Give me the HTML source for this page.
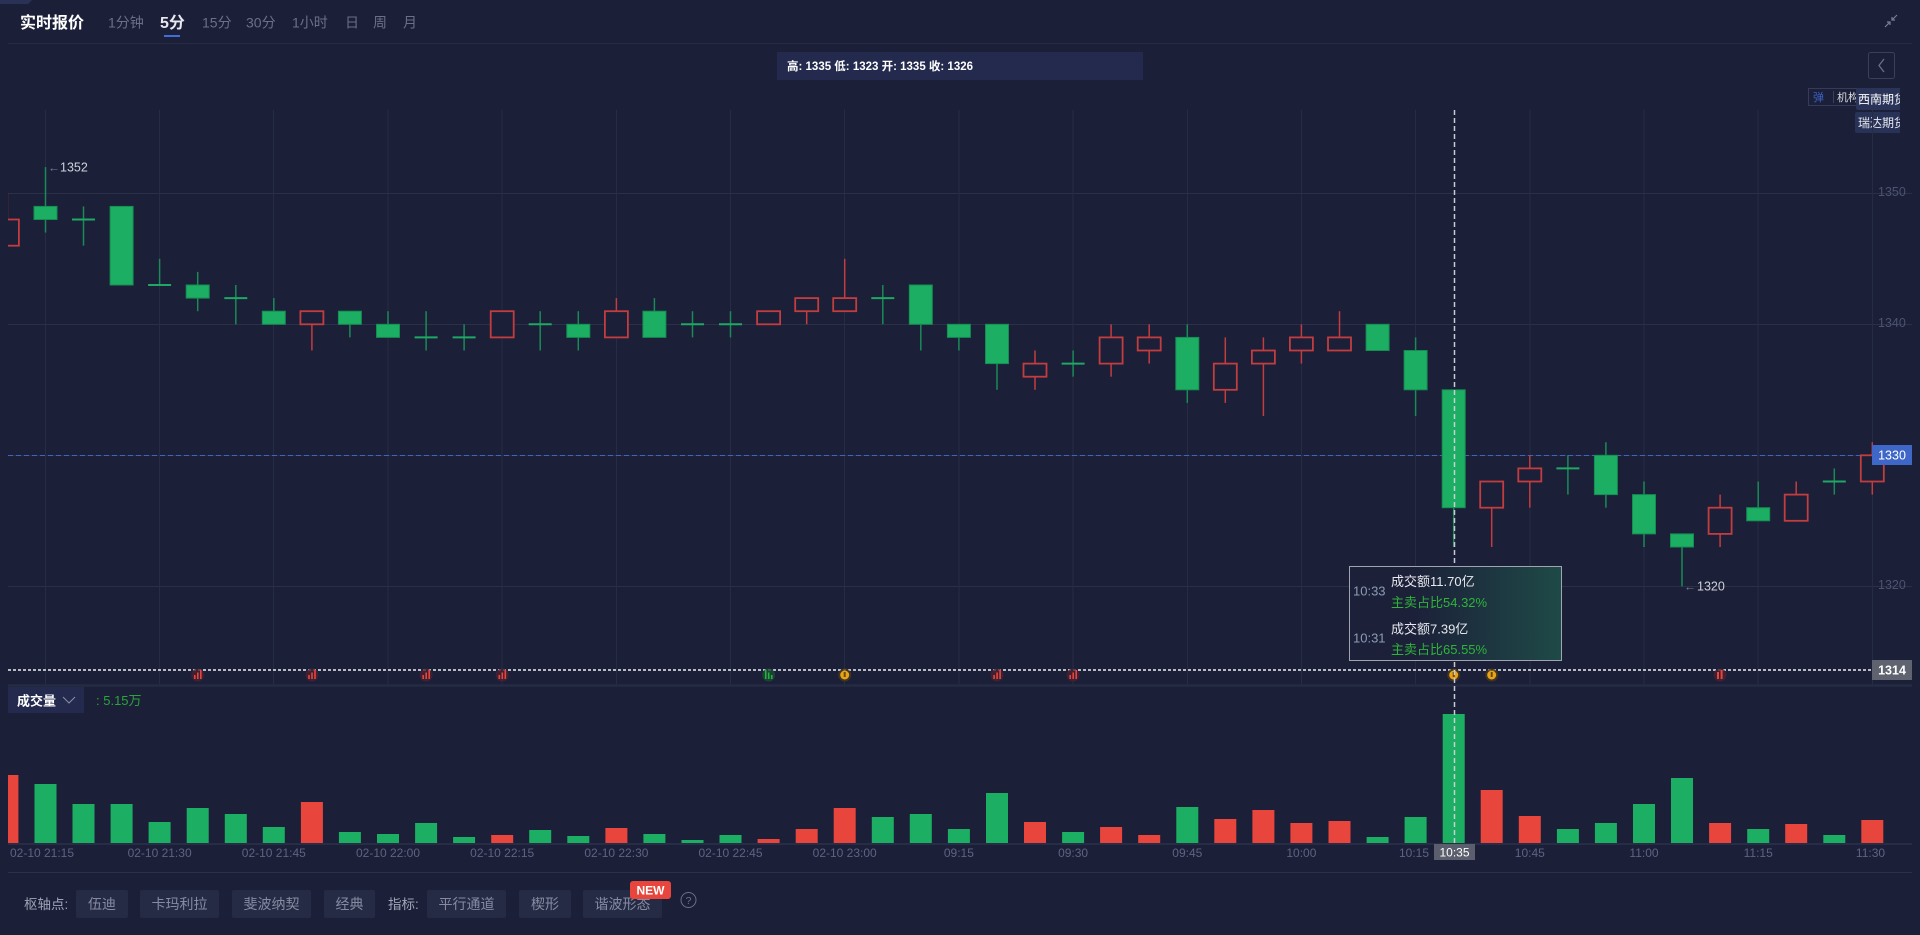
<!DOCTYPE html>
<html><head><meta charset="utf-8">
<style>
html,body{margin:0;padding:0;background:#1b1f38;width:1920px;height:935px;overflow:hidden}
svg{position:absolute;left:0;top:0;font-family:"Liberation Sans","Noto Sans CJK SC",sans-serif}
.gw{stroke:#1b8a56;stroke-width:1.5}
.gb{fill:#1caf63;stroke:#168c52;stroke-width:1}
.rw{stroke:#c23d3f;stroke-width:1.5}
.rb{fill:#1b1f38;stroke:#c23d3f;stroke-width:1.8}
.dj{stroke:#1ea864;stroke-width:2}
.vg{fill:#1caf63}.vr{fill:#e8463c}
.xl{font-size:12px;fill:#5e6381;text-anchor:middle}
.yl{font-size:12.5px;fill:#4d5370}
.tb{font-size:14px;fill:#6b7089}
.btn{fill:#262b45}
.bt{font-size:14px;fill:#868ba2;text-anchor:middle}
</style></head><body>
<svg width="1920" height="935" viewBox="0 0 1920 935">
<defs>
<clipPath id="pc"><rect x="8" y="100" width="1904" height="585"/></clipPath>
<clipPath id="vc"><rect x="8" y="686" width="1904" height="160"/></clipPath>
<clipPath id="tc"><rect x="1800" y="80" width="100" height="60"/></clipPath>
<linearGradient id="tg" x1="0" y1="0" x2="1" y2="0">
<stop offset="0" stop-color="#1c2039"/><stop offset="0.3" stop-color="#1c2039"/><stop offset="1" stop-color="#1e4a47"/>
</linearGradient>
</defs>

<!-- top-left decoration -->
<polygon points="0,0 32,0 28,4 0,4" fill="#2a3156"/>

<!-- header -->
<text x="20" y="28" font-size="16" font-weight="bold" fill="#ffffff">实时报价</text>
<text x="108" y="27.3" class="tb">1分钟</text>
<text x="160" y="28" font-size="16" font-weight="bold" fill="#e8e9f0">5分</text>
<rect x="164" y="35" width="16" height="2" fill="#3e6fd9"/>
<text x="202" y="27.3" class="tb">15分</text>
<text x="246" y="27.3" class="tb">30分</text>
<text x="292" y="27.3" class="tb">1小时</text>
<text x="345" y="27.3" class="tb">日</text>
<text x="373" y="27.3" class="tb">周</text>
<text x="403" y="27.3" class="tb">月</text>
<!-- compress icon -->
<g stroke="#7a7f96" stroke-width="1.2" fill="none">
<line x1="1885" y1="27" x2="1890" y2="22"/><polyline points="1887,22 1890,22 1890,25"/>
<line x1="1897" y1="15" x2="1892" y2="20"/><polyline points="1892,17 1892,20 1895,20"/>
</g>
<line x1="8" y1="43.5" x2="1912" y2="43.5" stroke="#262b44" stroke-width="1"/>

<!-- info box -->
<rect x="777" y="52" width="366" height="28" fill="#232a4d"/>
<text x="787" y="70" font-size="11.5" font-weight="bold" fill="#ffffff">高: 1335 低: 1323 开: 1335 收: 1326</text>

<!-- back button -->
<rect x="1868.5" y="52.5" width="26" height="26" rx="2" fill="none" stroke="#3a3f5a"/>
<polyline points="1884,59 1879,65.5 1884,72" fill="none" stroke="#6b7089" stroke-width="1.3"/>

<!-- tags -->
<g clip-path="url(#tc)">
<rect x="1808.5" y="88.5" width="60" height="17" fill="none" stroke="#363b5c"/>
<text x="1813" y="101" font-size="11" fill="#3d63c4">弹</text>
<line x1="1833.5" y1="91" x2="1833.5" y2="103" stroke="#3a3f5a"/>
<text x="1837" y="101" font-size="11" fill="#d8d9e0">机构</text>
<rect x="1856" y="88" width="50" height="22" rx="2" fill="#2a3358"/>
<text x="1858" y="103.5" font-size="12" fill="#ffffff">西南期货</text>
<rect x="1855" y="112" width="50" height="21" rx="2" fill="#283257"/>
<text x="1858" y="127" font-size="12" fill="#e8e9f0">瑞达期货</text>
</g>

<!-- grid -->
<g stroke="#2b3049" stroke-width="1">
<line x1="8" y1="193.5" x2="1912" y2="193.5"/>
<line x1="8" y1="324.5" x2="1912" y2="324.5"/>
<line x1="8" y1="455.5" x2="1912" y2="455.5"/>
<line x1="8" y1="586.5" x2="1912" y2="586.5"/>
</g>
<g stroke="#272c45" stroke-width="1">
<line x1="45.5" y1="110" x2="45.5" y2="685"/>
<line x1="159.5" y1="110" x2="159.5" y2="685"/>
<line x1="273.5" y1="110" x2="273.5" y2="685"/>
<line x1="388" y1="110" x2="388" y2="685"/>
<line x1="502" y1="110" x2="502" y2="685"/>
<line x1="616.5" y1="110" x2="616.5" y2="685"/>
<line x1="730.5" y1="110" x2="730.5" y2="685"/>
<line x1="844.5" y1="110" x2="844.5" y2="685"/>
<line x1="959" y1="110" x2="959" y2="685"/>
<line x1="1073" y1="110" x2="1073" y2="685"/>
<line x1="1187.5" y1="110" x2="1187.5" y2="685"/>
<line x1="1301.5" y1="110" x2="1301.5" y2="685"/>
<line x1="1415.5" y1="110" x2="1415.5" y2="685"/>
<line x1="1530" y1="110" x2="1530" y2="685"/>
<line x1="1644" y1="110" x2="1644" y2="685"/>
<line x1="1758" y1="110" x2="1758" y2="685"/>
<line x1="1872.5" y1="110" x2="1872.5" y2="685"/>
</g>

<!-- y labels -->
<text x="1878" y="196" class="yl">1350</text>
<text x="1878" y="327" class="yl">1340</text>
<text x="1878" y="589" class="yl">1320</text>

<!-- current price dashed -->
<line x1="8" y1="455.5" x2="1872" y2="455.5" stroke="#3d63c4" stroke-width="1" stroke-dasharray="5 3"/>

<!-- candles -->
<g clip-path="url(#pc)">
<line class="rw" x1="7.4" y1="193.3" x2="7.4" y2="245.7"/><rect class="rb" x="-4.1" y="219.5" width="23" height="26.2"/>
<line class="gw" x1="45.5" y1="167.1" x2="45.5" y2="232.6"/><rect class="gb" x="34" y="206.4" width="23" height="13.1"/>
<line class="gw" x1="83.5" y1="206.4" x2="83.5" y2="245.7"/><line class="dj" x1="72" y1="219.5" x2="95" y2="219.5"/>
<rect class="gb" x="110.1" y="206.4" width="23" height="78.6"/>
<line class="gw" x1="159.6" y1="258.8" x2="159.6" y2="285"/><line class="dj" x1="148.1" y1="285" x2="171.1" y2="285"/>
<line class="gw" x1="197.7" y1="271.9" x2="197.7" y2="311.2"/><rect class="gb" x="186.2" y="285" width="23" height="13.1"/>
<line class="gw" x1="235.8" y1="285" x2="235.8" y2="324.3"/><line class="dj" x1="224.3" y1="298.1" x2="247.3" y2="298.1"/>
<line class="gw" x1="273.8" y1="298.1" x2="273.8" y2="324.3"/><rect class="gb" x="262.3" y="311.2" width="23" height="13.1"/>
<line class="rw" x1="311.9" y1="311.2" x2="311.9" y2="350.5"/><rect class="rb" x="300.4" y="311.2" width="23" height="13.1"/>
<line class="gw" x1="349.9" y1="311.2" x2="349.9" y2="337.4"/><rect class="gb" x="338.4" y="311.2" width="23" height="13.1"/>
<line class="gw" x1="388" y1="311.2" x2="388" y2="337.4"/><rect class="gb" x="376.5" y="324.3" width="23" height="13.1"/>
<line class="gw" x1="426.1" y1="311.2" x2="426.1" y2="350.5"/><line class="dj" x1="414.6" y1="337.4" x2="437.6" y2="337.4"/>
<line class="gw" x1="464.1" y1="324.3" x2="464.1" y2="350.5"/><line class="dj" x1="452.6" y1="337.4" x2="475.6" y2="337.4"/>
<rect class="rb" x="490.7" y="311.2" width="23" height="26.2"/>
<line class="gw" x1="540.2" y1="311.2" x2="540.2" y2="350.5"/><line class="dj" x1="528.7" y1="324.3" x2="551.7" y2="324.3"/>
<line class="gw" x1="578.3" y1="311.2" x2="578.3" y2="350.5"/><rect class="gb" x="566.8" y="324.3" width="23" height="13.1"/>
<line class="rw" x1="616.4" y1="298.1" x2="616.4" y2="337.4"/><rect class="rb" x="604.9" y="311.2" width="23" height="26.2"/>
<line class="gw" x1="654.4" y1="298.1" x2="654.4" y2="337.4"/><rect class="gb" x="642.9" y="311.2" width="23" height="26.2"/>
<line class="gw" x1="692.5" y1="311.2" x2="692.5" y2="337.4"/><line class="dj" x1="681" y1="324.3" x2="704" y2="324.3"/>
<line class="gw" x1="730.5" y1="311.2" x2="730.5" y2="337.4"/><line class="dj" x1="719" y1="324.3" x2="742" y2="324.3"/>
<rect class="rb" x="757.1" y="311.2" width="23" height="13.1"/>
<line class="rw" x1="806.7" y1="298.1" x2="806.7" y2="324.3"/><rect class="rb" x="795.2" y="298.1" width="23" height="13.1"/>
<line class="rw" x1="844.7" y1="258.8" x2="844.7" y2="311.2"/><rect class="rb" x="833.2" y="298.1" width="23" height="13.1"/>
<line class="gw" x1="882.8" y1="285" x2="882.8" y2="324.3"/><line class="dj" x1="871.3" y1="298.1" x2="894.3" y2="298.1"/>
<line class="gw" x1="920.8" y1="285" x2="920.8" y2="350.5"/><rect class="gb" x="909.3" y="285" width="23" height="39.3"/>
<line class="gw" x1="958.9" y1="324.3" x2="958.9" y2="350.5"/><rect class="gb" x="947.4" y="324.3" width="23" height="13.1"/>
<line class="gw" x1="997" y1="324.3" x2="997" y2="389.8"/><rect class="gb" x="985.5" y="324.3" width="23" height="39.3"/>
<line class="rw" x1="1035" y1="350.5" x2="1035" y2="389.8"/><rect class="rb" x="1023.5" y="363.6" width="23" height="13.1"/>
<line class="gw" x1="1073.1" y1="350.5" x2="1073.1" y2="376.7"/><line class="dj" x1="1061.6" y1="363.6" x2="1084.6" y2="363.6"/>
<line class="rw" x1="1111.1" y1="324.3" x2="1111.1" y2="376.7"/><rect class="rb" x="1099.6" y="337.4" width="23" height="26.2"/>
<line class="rw" x1="1149.2" y1="324.3" x2="1149.2" y2="363.6"/><rect class="rb" x="1137.7" y="337.4" width="23" height="13.1"/>
<line class="gw" x1="1187.3" y1="324.3" x2="1187.3" y2="402.9"/><rect class="gb" x="1175.8" y="337.4" width="23" height="52.4"/>
<line class="rw" x1="1225.3" y1="337.4" x2="1225.3" y2="402.9"/><rect class="rb" x="1213.8" y="363.6" width="23" height="26.2"/>
<line class="rw" x1="1263.4" y1="337.4" x2="1263.4" y2="416"/><rect class="rb" x="1251.9" y="350.5" width="23" height="13.1"/>
<line class="rw" x1="1301.4" y1="324.3" x2="1301.4" y2="363.6"/><rect class="rb" x="1289.9" y="337.4" width="23" height="13.1"/>
<line class="rw" x1="1339.5" y1="311.2" x2="1339.5" y2="350.5"/><rect class="rb" x="1328" y="337.4" width="23" height="13.1"/>
<rect class="gb" x="1366.1" y="324.3" width="23" height="26.2"/>
<line class="gw" x1="1415.6" y1="337.4" x2="1415.6" y2="416"/><rect class="gb" x="1404.1" y="350.5" width="23" height="39.3"/>
<line class="gw" x1="1453.7" y1="389.8" x2="1453.7" y2="547"/><rect class="gb" x="1442.2" y="389.8" width="23" height="117.9"/>
<line class="rw" x1="1491.7" y1="481.5" x2="1491.7" y2="547"/><rect class="rb" x="1480.2" y="481.5" width="23" height="26.2"/>
<line class="rw" x1="1529.8" y1="455.3" x2="1529.8" y2="507.7"/><rect class="rb" x="1518.3" y="468.4" width="23" height="13.1"/>
<line class="gw" x1="1567.9" y1="455.3" x2="1567.9" y2="494.6"/><line class="dj" x1="1556.4" y1="468.4" x2="1579.4" y2="468.4"/>
<line class="gw" x1="1605.9" y1="442.2" x2="1605.9" y2="507.7"/><rect class="gb" x="1594.4" y="455.3" width="23" height="39.3"/>
<line class="gw" x1="1644" y1="481.5" x2="1644" y2="547"/><rect class="gb" x="1632.5" y="494.6" width="23" height="39.3"/>
<line class="gw" x1="1682" y1="533.9" x2="1682" y2="586.3"/><rect class="gb" x="1670.5" y="533.9" width="23" height="13.1"/>
<line class="rw" x1="1720.1" y1="494.6" x2="1720.1" y2="547"/><rect class="rb" x="1708.6" y="507.7" width="23" height="26.2"/>
<line class="gw" x1="1758.2" y1="481.5" x2="1758.2" y2="520.8"/><rect class="gb" x="1746.7" y="507.7" width="23" height="13.1"/>
<line class="rw" x1="1796.2" y1="481.5" x2="1796.2" y2="520.8"/><rect class="rb" x="1784.7" y="494.6" width="23" height="26.2"/>
<line class="gw" x1="1834.3" y1="468.4" x2="1834.3" y2="494.6"/><line class="dj" x1="1822.8" y1="481.5" x2="1845.8" y2="481.5"/>
<line class="rw" x1="1872.3" y1="442.2" x2="1872.3" y2="494.6"/><rect class="rb" x="1860.8" y="455.3" width="23" height="26.2"/>
</g>

<!-- high/low markers -->
<text x="48" y="171.5" font-size="12" fill="#7a7f96">←</text>
<text x="60" y="171.5" font-size="12.5" fill="#d0d2da">1352</text>
<text x="1684" y="590.5" font-size="12" fill="#7a7f96">←</text>
<text x="1697" y="590.5" font-size="12.5" fill="#d0d2da">1320</text>

<!-- crosshair horizontal -->
<line x1="8" y1="670" x2="1872" y2="670" stroke="#b8bac6" stroke-width="2" stroke-dasharray="3 2"/>

<!-- signal icons -->
<g>
<circle cx="197.7" cy="675" r="6.5" fill="#4a2030" opacity="0.8"/><rect x="194" y="675" width="1.6" height="4" fill="#e8453c"/><rect x="197" y="672.5" width="1.6" height="6.5" fill="#e8453c"/><rect x="200" y="670" width="1.6" height="9" fill="#e8453c"/>
<circle cx="311.9" cy="675" r="6.5" fill="#4a2030" opacity="0.8"/><rect x="308.2" y="675" width="1.6" height="4" fill="#e8453c"/><rect x="311.2" y="672.5" width="1.6" height="6.5" fill="#e8453c"/><rect x="314.2" y="670" width="1.6" height="9" fill="#e8453c"/>
<circle cx="426.1" cy="675" r="6.5" fill="#4a2030" opacity="0.8"/><rect x="422.4" y="675" width="1.6" height="4" fill="#e8453c"/><rect x="425.4" y="672.5" width="1.6" height="6.5" fill="#e8453c"/><rect x="428.4" y="670" width="1.6" height="9" fill="#e8453c"/>
<circle cx="502.2" cy="675" r="6.5" fill="#4a2030" opacity="0.8"/><rect x="498.5" y="675" width="1.6" height="4" fill="#e8453c"/><rect x="501.5" y="672.5" width="1.6" height="6.5" fill="#e8453c"/><rect x="504.5" y="670" width="1.6" height="9" fill="#e8453c"/>
<circle cx="768.6" cy="675" r="6.5" fill="#1d4a35" opacity="0.8"/><rect x="764.9" y="670" width="1.6" height="9" fill="#22b33a"/><rect x="767.9" y="672.5" width="1.6" height="6.5" fill="#22b33a"/><rect x="770.9" y="675" width="1.6" height="4" fill="#22b33a"/>
<circle cx="844.7" cy="675" r="6.5" fill="#4a3a1a" opacity="0.8"/><circle cx="844.7" cy="675" r="4.5" fill="#e8a317"/><rect x="843.7" y="672" width="2" height="5" fill="#6a4a10"/>
<circle cx="997" cy="675" r="6.5" fill="#4a2030" opacity="0.8"/><rect x="993.3" y="675" width="1.6" height="4" fill="#e8453c"/><rect x="996.3" y="672.5" width="1.6" height="6.5" fill="#e8453c"/><rect x="999.3" y="670" width="1.6" height="9" fill="#e8453c"/>
<circle cx="1073.1" cy="675" r="6.5" fill="#4a2030" opacity="0.8"/><rect x="1069.4" y="675" width="1.6" height="4" fill="#e8453c"/><rect x="1072.4" y="672.5" width="1.6" height="6.5" fill="#e8453c"/><rect x="1075.4" y="670" width="1.6" height="9" fill="#e8453c"/>
<circle cx="1453.7" cy="675" r="6.5" fill="#4a3a1a" opacity="0.8"/><circle cx="1453.7" cy="675" r="4.5" fill="#e8a317"/><rect x="1452.7" y="672" width="2" height="5" fill="#6a4a10"/>
<circle cx="1491.7" cy="675" r="6.5" fill="#4a3a1a" opacity="0.8"/><circle cx="1491.7" cy="675" r="4.5" fill="#e8a317"/><rect x="1490.7" y="672" width="2" height="5" fill="#6a4a10"/>
<circle cx="1720.1" cy="675" r="6.5" fill="#4a2030" opacity="0.8"/><rect x="1717" y="672" width="2" height="7" fill="#e8453c"/><rect x="1720.6" y="670" width="2" height="9" fill="#e8453c"/>
</g>

<!-- panel separator -->
<line x1="8" y1="685.5" x2="1912" y2="685.5" stroke="#262b44" stroke-width="2.5"/>

<!-- volume header -->
<rect x="8" y="687" width="76" height="26" fill="#232a4d"/>
<text x="17" y="705.5" font-size="13" font-weight="bold" fill="#ffffff">成交量</text>
<polyline points="63,697 69,703 75,697" fill="none" stroke="#8a8fa6" stroke-width="1"/>
<text x="96" y="705" font-size="13" fill="#2aa53a">: 5.15万</text>

<!-- volume bars -->
<g clip-path="url(#vc)">
<rect class="vr" x="-3.6" y="775" width="22" height="68"/>
<rect class="vg" x="34.5" y="784" width="22" height="59"/>
<rect class="vg" x="72.5" y="804" width="22" height="39"/>
<rect class="vg" x="110.6" y="804" width="22" height="39"/>
<rect class="vg" x="148.6" y="822" width="22" height="21"/>
<rect class="vg" x="186.7" y="808" width="22" height="35"/>
<rect class="vg" x="224.8" y="814" width="22" height="29"/>
<rect class="vg" x="262.8" y="827" width="22" height="16"/>
<rect class="vr" x="300.9" y="802" width="22" height="41"/>
<rect class="vg" x="338.9" y="832" width="22" height="11"/>
<rect class="vg" x="377" y="834" width="22" height="9"/>
<rect class="vg" x="415.1" y="823" width="22" height="20"/>
<rect class="vg" x="453.1" y="837" width="22" height="6"/>
<rect class="vr" x="491.2" y="835" width="22" height="8"/>
<rect class="vg" x="529.2" y="830" width="22" height="13"/>
<rect class="vg" x="567.3" y="836" width="22" height="7"/>
<rect class="vr" x="605.4" y="828" width="22" height="15"/>
<rect class="vg" x="643.4" y="834" width="22" height="9"/>
<rect class="vg" x="681.5" y="840" width="22" height="3"/>
<rect class="vg" x="719.5" y="835" width="22" height="8"/>
<rect class="vr" x="757.6" y="839" width="22" height="4"/>
<rect class="vr" x="795.7" y="829" width="22" height="14"/>
<rect class="vr" x="833.7" y="808" width="22" height="35"/>
<rect class="vg" x="871.8" y="817" width="22" height="26"/>
<rect class="vg" x="909.8" y="814" width="22" height="29"/>
<rect class="vg" x="947.9" y="829" width="22" height="14"/>
<rect class="vg" x="986" y="793" width="22" height="50"/>
<rect class="vr" x="1024" y="822" width="22" height="21"/>
<rect class="vg" x="1062.1" y="832" width="22" height="11"/>
<rect class="vr" x="1100.1" y="827" width="22" height="16"/>
<rect class="vr" x="1138.2" y="835" width="22" height="8"/>
<rect class="vg" x="1176.3" y="807" width="22" height="36"/>
<rect class="vr" x="1214.3" y="819" width="22" height="24"/>
<rect class="vr" x="1252.4" y="810" width="22" height="33"/>
<rect class="vr" x="1290.4" y="823" width="22" height="20"/>
<rect class="vr" x="1328.5" y="821" width="22" height="22"/>
<rect class="vg" x="1366.6" y="837" width="22" height="6"/>
<rect class="vg" x="1404.6" y="817" width="22" height="26"/>
<rect class="vg" x="1442.7" y="714" width="22" height="129"/>
<rect class="vr" x="1480.7" y="790" width="22" height="53"/>
<rect class="vr" x="1518.8" y="816" width="22" height="27"/>
<rect class="vg" x="1556.9" y="829" width="22" height="14"/>
<rect class="vg" x="1594.9" y="823" width="22" height="20"/>
<rect class="vg" x="1633" y="804" width="22" height="39"/>
<rect class="vg" x="1671" y="778" width="22" height="65"/>
<rect class="vr" x="1709.1" y="823" width="22" height="20"/>
<rect class="vg" x="1747.2" y="829" width="22" height="14"/>
<rect class="vr" x="1785.2" y="824" width="22" height="19"/>
<rect class="vg" x="1823.3" y="835" width="22" height="8"/>
<rect class="vr" x="1861.3" y="820" width="22" height="23"/>
</g>
<line x1="8" y1="844" x2="1912" y2="844" stroke="#282d47" stroke-width="2"/>

<!-- x labels -->
<text x="42" y="857" class="xl">02-10 21:15</text>
<text x="159.6" y="857" class="xl">02-10 21:30</text>
<text x="273.8" y="857" class="xl">02-10 21:45</text>
<text x="388" y="857" class="xl">02-10 22:00</text>
<text x="502.2" y="857" class="xl">02-10 22:15</text>
<text x="616.4" y="857" class="xl">02-10 22:30</text>
<text x="730.5" y="857" class="xl">02-10 22:45</text>
<text x="844.7" y="857" class="xl">02-10 23:00</text>
<text x="958.9" y="857" class="xl">09:15</text>
<text x="1073.1" y="857" class="xl">09:30</text>
<text x="1187.3" y="857" class="xl">09:45</text>
<text x="1301.4" y="857" class="xl">10:00</text>
<text x="1414" y="857" class="xl">10:15</text>
<text x="1529.8" y="857" class="xl">10:45</text>
<text x="1644" y="857" class="xl">11:00</text>
<text x="1758.2" y="857" class="xl">11:15</text>
<text x="1870.5" y="857" class="xl">11:30</text>

<!-- crosshair vertical -->
<line x1="1454.5" y1="110" x2="1454.5" y2="844" stroke="#c8cad4" stroke-width="1.5" stroke-dasharray="5 3"/>
<rect x="1434" y="844" width="41" height="16" fill="#5b5e6c"/>
<text x="1454.5" y="856.5" font-size="12" fill="#ffffff" text-anchor="middle">10:35</text>

<!-- price labels -->
<rect x="1872" y="445" width="40" height="20" fill="#3f67c8"/>
<text x="1892" y="459.5" font-size="12.5" fill="#ffffff" text-anchor="middle">1330</text>
<rect x="1872" y="660" width="40" height="20" fill="#5f626f"/>
<text x="1892" y="674.5" font-size="12.5" font-weight="bold" fill="#ffffff" text-anchor="middle">1314</text>

<!-- tooltip -->
<rect x="1349.5" y="566.5" width="212" height="47.5" fill="url(#tg)"/>
<rect x="1349.5" y="614" width="212" height="46.5" fill="url(#tg)"/>
<rect x="1349.5" y="566.5" width="212" height="94" fill="none" stroke="#a0a3b0" stroke-width="1"/>
<text x="1353" y="595.5" font-size="13" fill="#8c9bb5">10:33</text>
<text x="1391" y="586" font-size="13" fill="#e8e9ee">成交额11.70亿</text>
<text x="1391" y="607" font-size="13" fill="#2fb33a">主卖占比54.32%</text>
<text x="1353" y="642.5" font-size="13" fill="#8c9bb5">10:31</text>
<text x="1391" y="633.5" font-size="13" fill="#e8e9ee">成交额7.39亿</text>
<text x="1391" y="654" font-size="13" fill="#2fb33a">主卖占比65.55%</text>

<!-- bottom bar -->
<line x1="8" y1="872.5" x2="1912" y2="872.5" stroke="#2c3149" stroke-width="1"/>
<text x="24" y="909" font-size="13.5" fill="#a0a4b8">枢轴点:</text>
<rect class="btn" x="76" y="890" width="52" height="28" rx="2"/><text class="bt" x="102" y="909">伍迪</text>
<rect class="btn" x="140" y="890" width="79" height="28" rx="2"/><text class="bt" x="179.5" y="909">卡玛利拉</text>
<rect class="btn" x="232" y="890" width="79" height="28" rx="2"/><text class="bt" x="271.5" y="909">斐波纳契</text>
<rect class="btn" x="324" y="890" width="51" height="28" rx="2"/><text class="bt" x="349.5" y="909">经典</text>
<text x="388" y="909" font-size="13.5" fill="#a0a4b8">指标:</text>
<rect class="btn" x="427" y="890" width="79" height="28" rx="2"/><text class="bt" x="466.5" y="909">平行通道</text>
<rect class="btn" x="519" y="890" width="52" height="28" rx="2"/><text class="bt" x="545" y="909">楔形</text>
<rect class="btn" x="583" y="890" width="79" height="28" rx="2"/><text class="bt" x="622.5" y="909">谐波形态</text>
<rect x="630" y="881" width="41" height="18" rx="3" fill="#e8453c"/>
<text x="650.5" y="894.5" font-size="12" font-weight="bold" fill="#ffffff" text-anchor="middle">NEW</text>
<circle cx="688.5" cy="900" r="7.5" fill="none" stroke="#6b7089" stroke-width="1"/>
<text x="688.5" y="904" font-size="10.5" fill="#6b7089" text-anchor="middle">?</text>
</svg>
</body></html>
